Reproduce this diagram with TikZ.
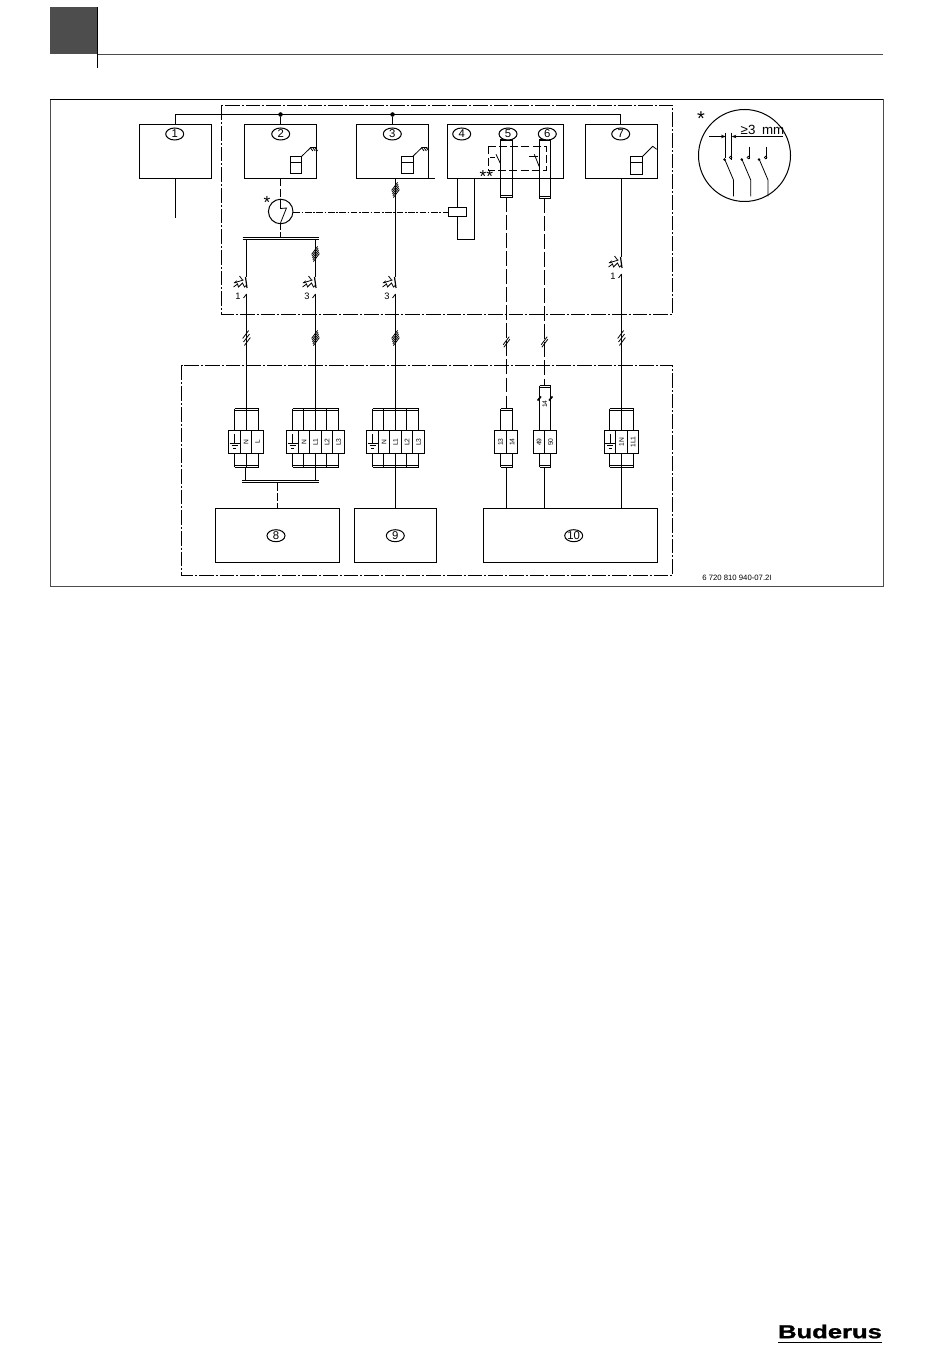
\documentclass[tikz,border=0pt]{standalone}
\usepackage{fontspec}
\setmainfont{Liberation Sans}
\newfontfamily\brandfont[FakeBold=1.2]{Liberation Sans Bold}
\usetikzlibrary{shapes.geometric}
\usetikzlibrary{arrows.meta}
\definecolor{tabGrey}{HTML}{4D4D4D}
\tikzset{
    wire/.style={line width=0.9pt},
    thinwire/.style={line width=0.6pt},
    dashwire/.style={line width=0.9pt,dash pattern=on 11pt off 2.5pt},
    zoneframe/.style={line width=0.7pt,dash pattern=on 11pt off 1.5pt on 1.5pt off 1.5pt},
    unitbox/.style={draw,line width=0.9pt,rectangle,inner sep=0pt,outer sep=0pt},
    tagnode/.style={draw,ellipse,line width=0.75pt,fill=white,inner sep=0pt,minimum width=13.5pt,minimum height=9pt,font=\fontsize{8.5}{8.5}\selectfont},
    termcell/.style={draw,line width=0.9pt,fill=white,rectangle,inner sep=0pt,outer sep=0pt,minimum height=17.3pt,font=\fontsize{5}{5}\selectfont},
    dot/.style={circle,fill=black,inner sep=1.2pt}
}
% box given by its corners, in reference pixels
\newcommand{\unitnode}[5]{%
  \node[unitbox,minimum width={(#4-#2)*0.75pt},minimum height={(#5-#3)*0.75pt}] (#1) at ({(#2+#4)/2},{(#3+#5)/2}) {};}
% circuit breaker on a wire at x, from y
\newcommand{\breakersym}[4]{%
  \coordinate (#1-in) at (#2,#3);
  \coordinate (#1-out) at (#2,#3+17);
  \draw[wire] (#2-1,#3) -- (#2+0.5,#3+11);
  \draw[thinwire] (#2-3,#3+21) -- (#2,#3+17);
  \draw[thinwire,-{Stealth[length=3pt]}] (#2-3,#3+3) -- (#2-13,#3+6);
  \draw[thinwire] (#2-13,#3+10) -- (#2-9,#3+7) -- (#2-8,#3+10) -- (#2-4,#3+6) -- (#2-2,#3+10) -- (#2+0.3,#3+8);
  \draw[thinwire] (#2-7,#3-1) -- (#2-4,#3+3);
  \node[font=\fontsize{7}{7}\selectfont,inner sep=0pt] (#1-lab) at (#2-8.5,#3+19.5) {#4};}
% stack of slashes on a wire
\newcommand{\hashmark}[4]{%
  \foreach \k in {1,...,#3}
    \draw[thinwire] ({#1-3+(\k-(#3+1)/2)*#4*0.25},{#2+4+(\k-(#3+1)/2)*#4}) -- ({#1+3+(\k-(#3+1)/2)*#4*0.25},{#2-4+(\k-(#3+1)/2)*#4});}
% terminal strip: name, verticals, cells, top y, bar left, bar right
\newcommand{\termgroup}[6]{%
  \coordinate (#1-top) at ({(#5+#6)/2},#4);
  \coordinate (#1-bot) at ({(#5+#6)/2},467.7);
  \foreach \vx in {#2} {
    \draw[wire] (\vx,#4) -- (\vx,467);
  }
  \draw[thinwire] (#5,#4) -- (#6,#4);
  \draw[thinwire] (#5,#4+2.3) -- (#6,#4+2.3);
  \draw[thinwire] (#5,465.3) -- (#6,465.3);
  \draw[thinwire] (#5,467.7) -- (#6,467.7);
  \foreach \xa/\xb/\txt [count=\i] in {#3} {
    \node[termcell,minimum width={(\xb-\xa)*0.75pt}] (#1-\i) at ({(\xa+\xb)/2},442) {\rotatebox{90}{\txt}};
  }}
% earth symbol
\newcommand{\earthsym}[1]{%
  \draw[thinwire] (#1,434) -- (#1,443);
  \draw[thinwire] (#1-5,443) -- (#1+5,443);
  \draw[thinwire] (#1-3,445.5) -- (#1+3,445.5);
  \draw[thinwire] (#1-1.5,448) -- (#1+1.5,448);}
% control symbol of a unit
\newcommand{\combsym}[1]{%
  \draw[thinwire] (#1,156.3) rectangle (#1+11.4,173.3);
  \draw[thinwire] (#1,162.7) -- (#1+11.4,162.7);
  \draw[thinwire] (#1+11.4,156.3) -- (#1+20.5,147.5) -- (#1+25.5,147.5) -- (#1+25.5,149.5);
  \foreach \t in {0,2.4,4.8} \draw[thinwire] (#1+20+\t,147.5) -- (#1+22.5+\t,151);}

\begin{document}
\begin{tikzpicture}[x=0.75pt,y=-0.75pt]
  \useasboundingbox (0,0) rectangle (950,1358);

  % page head
  \fill[tabGrey] (50,7) rectangle (97,54);
  \draw[line width=0.6pt,black!70] (97,54.5) -- (883,54.5);
  \draw[line width=0.8pt] (97.5,7) -- (97.5,68);

  % frame of the figure
  \draw[line width=0.7pt,black!70] (50.5,99.5) rectangle (883.5,586.5);
  \draw[line width=0.75pt] (50,99.5) -- (883,99.5);

  % dash-dot zones
  \draw[zoneframe] (221.5,105.5) rectangle (672.5,314.5);
  \draw[zoneframe] (181.5,365.5) rectangle (672.5,575.5);

  % units, upper row
  \unitnode{dev1}{139.5}{124.5}{211.5}{178.5}
  \unitnode{dev2}{244.5}{124.5}{316.5}{178.5}
  \unitnode{dev3}{356.5}{124.5}{428.5}{178.5}
  \unitnode{dev4}{447.5}{124.5}{563.5}{178.5}
  \unitnode{dev7}{585.5}{124.5}{657.5}{178.5}

  % units, lower row
  \unitnode{dev8}{215.5}{508.5}{339.5}{562.5}
  \unitnode{dev9}{354.5}{508.5}{436.5}{562.5}
  \unitnode{dev10}{483.5}{508.5}{657.5}{562.5}

  % supply bus on top
  \coordinate (busR) at (620.5,114.5);
  \draw[wire] (dev1.north) |- (busR) -- (busR |- dev7.north);
  \node[dot] (tap2) at (dev2.north |- busR) {};
  \node[dot] (tap3) at (dev3.north |- busR) {};
  \draw[wire] (tap2) -- (dev2.north);
  \draw[wire] (tap3) -- (dev3.north);

  % stub under unit 1 and 3
  \coordinate (end1) at (175.5,217.7);
  \draw[wire] (dev1.south) -- (end1);
  \draw[thinwire] (dev3.south east) -- ++(6.5,0);

  % control symbols
  \combsym{290.3}
  \combsym{401.5}
  \draw[thinwire] (630.3,156.3) rectangle (642.7,174.3);
  \draw[thinwire] (630.3,162.3) -- (642.7,162.3);
  \draw[thinwire] (642.7,156.3) -- (652.7,146.3) -- (656.7,149.3);

  % relay 4, with contacts 5 and 6
  \unitnode{rel5}{500.5}{140}{512.5}{197.5}
  \unitnode{rel6}{539.5}{140}{550.5}{198.5}
  \draw[thinwire] (500.5,195) -- (512.5,195);
  \draw[thinwire] (539.5,196) -- (550.5,196);
  \draw[line width=0.75pt,dash pattern=on 6pt off 2.4pt] (488.5,146.5) rectangle (546.5,170.5);
  \draw[thinwire] (496,154.3) -- (500.3,163.3);
  \draw[thinwire] (490,157.7) -- (495,157.7);
  \draw[thinwire] (534.3,154.3) -- (539.3,166.7);
  \draw[thinwire] (529.3,156.3) -- (538.3,156.3);
  \node[font=\fontsize{13}{13}\selectfont,inner sep=0pt] (stars) at (486.3,177) {**};

  % coil under relay 4
  \unitnode{mag}{448.5}{207.5}{466.5}{216.5}
  \coordinate (coilR) at (474.5,239.5);
  \draw[wire] (dev4.south -| mag.north) -- (mag.north);
  \draw[wire] (mag.south) |- (coilR) -- (coilR |- dev4.south);

  % residual current device
  \node[draw,circle,line width=0.75pt,minimum size=18.4pt,inner sep=0pt] (rcd) at (280.7,211.5) {};
  \node[font=\fontsize{13}{13}\selectfont,inner sep=0pt] (rcdstar) at (267,203) {*};
  \draw[thinwire] (280.5,199) -- (280.5,208.5) -- (286.5,208) -- (280.5,223);
  \draw[line width=0.6pt,dash pattern=on 5pt off 1.2pt on 1.2pt off 1.2pt] (rcd.east |- mag.west) -- (mag.west);
  \coordinate (barA) at (280.5,239.5);
  \draw[wire,dash pattern=on 6pt off 2pt] (dev2.south) -- (rcd.north -| dev2.south);
  \draw[wire,dash pattern=on 4pt off 2pt] (rcd.south -| barA) -- (barA);

  % double bar above the breakers
  \draw[thinwire] (242.7,237) -- (319,237);
  \draw[thinwire] (242.7,239.5) -- (319,239.5);
  \coordinate (barAl) at (246.5,239.5);
  \coordinate (barAr) at (315.5,239.5);
  \coordinate (wire3) at (395.5,178.5);

  % breakers
  \breakersym{brk1}{246.5}{277}{1}
  \breakersym{brk2}{315.5}{277}{3}
  \breakersym{brk3}{395.5}{277}{3}
  \breakersym{brk7}{621.5}{257}{1}

  % terminal strips
  \termgroup{tA}{234.5,246.5,258.5}{228.5/240.5/,240.5/251.5/N,251.5/263.5/L}{408.5}{234.5}{258.5}
  \termgroup{tB}{292.5,303.5,315.5,326.5,338.5}{286.5/298.5/,298.5/309.5/N,309.5/321.5/L1,321.5/332.5/L2,332.5/344.5/L3}{408.5}{292.5}{338.5}
  \termgroup{tC}{372.5,383.5,395.5,406.5,418.5}{366.5/378.5/,378.5/389.5/N,389.5/401.5/L1,401.5/412.5/L2,412.5/424.5/L3}{408.5}{372.5}{418.5}
  \termgroup{tD}{500.5,512.5}{494.5/506.5/13,506.5/517.5/14}{408.5}{500.5}{512.5}
  \termgroup{tE}{539.5,550.5}{533.5/544.5/49,544.5/556.5/50}{385.5}{539.5}{550.5}
  \termgroup{tF}{609.5,621.5,633.5}{604.5/615.5/,615.5/627.5/1N,627.5/638.5/1L1}{408.5}{609.5}{633.5}
  \earthsym{234.5}
  \earthsym{292.5}
  \earthsym{372.5}
  \earthsym{610}

  % extra marks on strip 49/50
  \node[rotate=90,font=\fontsize{5}{5}\selectfont,inner sep=0pt] (lab14) at (544.8,404) {14};
  \draw[line width=1.2pt] (537.5,400.5) -- (541,396.5);
  \draw[line width=1.2pt] (549,400.5) -- (552.5,396.5);

  % wires, breakers to strips
  \draw[wire] (barAl) -- (brk1-in);
  \draw[wire] (brk1-out) -- (tA-top);
  \draw[wire] (barAr) -- (brk2-in);
  \draw[wire] (brk2-out) -- (tB-top);
  \draw[wire] (wire3) -- (brk3-in);
  \draw[wire] (brk3-out) -- (tC-top);
  \draw[wire] (dev7.south) -- (brk7-in);
  \draw[wire] (brk7-out) -- (tF-top);
  \draw[dashwire] (rel5.south -| tD-top) -- (tD-top);
  \coordinate (wire6) at (544.5,198.5);
  \draw[dashwire] (wire6) -- (wire6 |- tE-top);

  % wires, strips to the lower units
  \coordinate (barBl) at (245.5,480.5);
  \coordinate (barBr) at (315.5,480.5);
  \coordinate (barB) at (277.5,482.5);
  \draw[wire] (tA-bot -| barBl) -- (barBl);
  \draw[wire] (tB-bot) -- (barBr);
  \draw[thinwire] (242.3,480.5) -- (319,480.5);
  \draw[thinwire] (242.3,482.6) -- (319,482.6);
  \draw[line width=0.7pt,dash pattern=on 6pt off 1.8pt] (barB) -- (dev8.north -| barB);
  \draw[wire] (tC-bot) -- (dev9.north);
  \draw[wire] (tD-bot) -- (tD-bot |- dev10.north);
  \draw[wire] (wire6 |- tE-bot) -- (wire6 |- dev10.north);
  \draw[wire] (tF-bot) -- (tF-bot |- dev10.north);

  % number of conductors
  \hashmark{315.5}{254}{5}{1.8}
  \hashmark{395.5}{190}{5}{1.8}
  \hashmark{246.5}{338}{3}{3.5}
  \hashmark{315.5}{338}{5}{1.8}
  \hashmark{395.5}{338}{5}{1.8}
  \hashmark{506.5}{342}{2}{2.5}
  \hashmark{544.5}{342}{2}{2.5}
  \hashmark{621.5}{338}{3}{3.5}

  % numbers of the units
  \node[tagnode] (tag1) at (174.7,134) {1};
  \node[tagnode] (tag2) at (280.7,134) {2};
  \node[tagnode] (tag3) at (392.3,134) {3};
  \node[tagnode] (tag4) at (461.7,134) {4};
  \node[tagnode] (tag5) at (508,134) {5};
  \node[tagnode] (tag6) at (547.3,134) {6};
  \node[tagnode] (tag7) at (620.7,134) {7};
  \node[tagnode] (tag8) at (276,535.7) {8};
  \node[tagnode] (tag9) at (395.3,535.7) {9};
  \node[tagnode] (tag10) at (573.7,535.7) {10};

  % detail of the isolator
  \node[draw,circle,line width=0.75pt,minimum size=69pt,inner sep=0pt] (detail) at (744.5,155.5) {};
  \node[font=\fontsize{15}{15}\selectfont,inner sep=0pt] (detailstar) at (701,119) {*};
  \node[font=\fontsize{10}{10}\selectfont,inner sep=0pt] (gap) at (762.5,130) {≥3\,\,\,mm};
  \coordinate (gapL) at (725.7,136.5);
  \coordinate (gapR) at (731.7,136.5);
  \draw[thinwire,-{Stealth[length=3.5pt]}] (709,136.5) -- (gapL);
  \draw[thinwire,-{Stealth[length=3.5pt]}] (783,136.5) -- (gapR);
  \draw[thinwire] (725.7,132.7) -- (725.7,158);
  \draw[thinwire] (731.7,132.7) -- (731.7,160);
  \foreach \px in {0,17.2,34.5} {
    \draw[thinwire] (725+\px,160) -- (733.5+\px,180) -- (733.5+\px,196.5);
    \fill (724.5+\px,159.5) circle (1.3);
  }
  \foreach \px/\py in {731.7/150,749.3/147,766.7/147} {
    \draw[thinwire] (\px,\py) -- (\px,159);
    \draw[line width=0.5pt] (\px-1,157.5) circle (1.3);
  }

  % figure number
  \node[font=\fontsize{5.8}{5.8}\selectfont,inner sep=0pt] (fignum) at (737,578) {6 720 810 940-07.2I};

  % brand
  \node[font=\fontsize{14}{14}\selectfont\brandfont,xscale=1.37,inner sep=0pt] (brand) at (830,1331.5) {Buderus};
  \draw[line width=1pt] (778,1342.7) -- (882,1342.7);
\end{tikzpicture}
\end{document}
